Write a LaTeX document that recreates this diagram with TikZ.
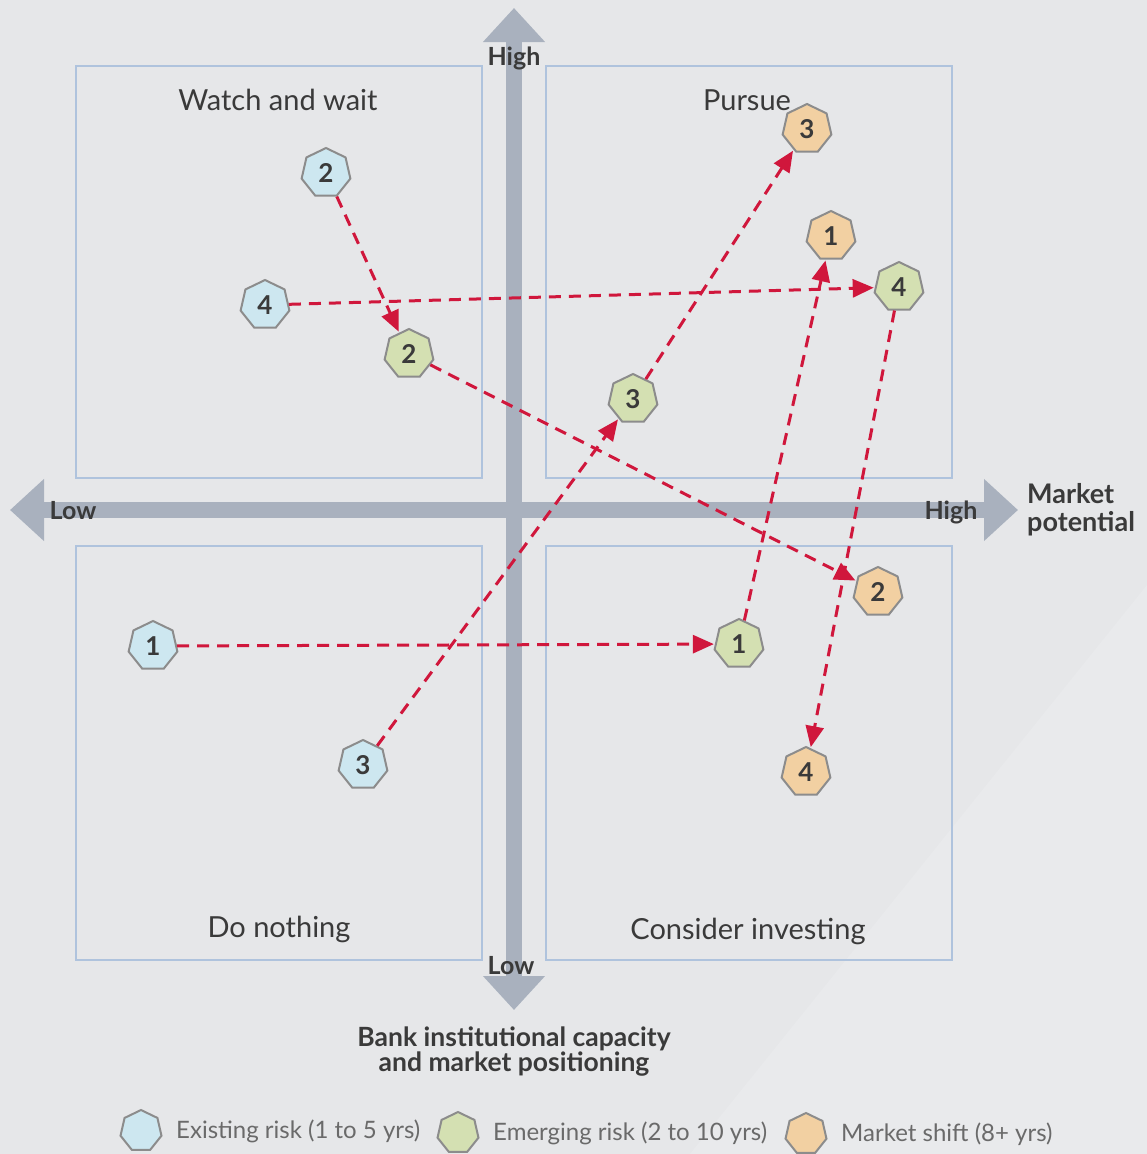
\documentclass[tikz,border=0pt]{standalone}
\usepackage{fontspec}
\setmainfont{Lato}
\usetikzlibrary{shapes.geometric,arrows.meta}
\definecolor{bg}{HTML}{E6E7E9}
\definecolor{bgl}{HTML}{E9EAEC}
\definecolor{axisc}{HTML}{A9B1BE}
\definecolor{boxc}{HTML}{AFC3DD}
\definecolor{txt}{HTML}{3A3A3A}
\definecolor{legtxt}{HTML}{6A6A6A}
\definecolor{hgray}{HTML}{8C8C8C}
\definecolor{cblue}{HTML}{CDE7F0}
\definecolor{cgreen}{HTML}{D4E0B2}
\definecolor{corange}{HTML}{F2D0A2}
\definecolor{rred}{HTML}{D0173C}
\tikzset{
  quad/.style={draw=boxc, line width=1.5pt},
  axisline/.style={draw=axisc, line width=16pt, {Triangle[length=34pt,width=60pt]}-{Triangle[length=34pt,width=60pt]}},
  axlabel/.style={text=txt, font=\bfseries\fontsize{25}{26}\selectfont, inner sep=0pt},
  qtitle/.style={text=txt, font=\fontsize{29}{30}\selectfont, inner sep=0pt},
  hept/.style={regular polygon, regular polygon sides=7, minimum size=50pt, inner sep=0pt, draw=hgray, line width=2pt, text=txt, font=\bfseries\fontsize{26}{26}\selectfont},
  exist/.style={hept, fill=cblue},
  emerg/.style={hept, fill=cgreen},
  mshift/.style={hept, fill=corange},
  legh/.style={minimum size=42pt},
  legtext/.style={text=legtxt, anchor=west, inner sep=0pt, font=\fontsize{24}{26}\selectfont},
  riskarrow/.style={draw=rred, line width=3pt, dash pattern=on 12pt off 8pt, -{Triangle[length=21pt,width=18pt]}, shorten >=1pt}
}
\begin{document}
\begin{tikzpicture}[x=1pt,y=-1pt]
\fill[bg] (0,0) rectangle (1147,1154);
\fill[bgl] (690,1154) -- (1147,585) -- (1147,1154) -- cycle;
\useasboundingbox (0,0) rectangle (1147,1154);

% quadrants
\draw[quad] (76,66) rectangle (482,478);
\draw[quad] (546,66) rectangle (952,478);
\draw[quad] (76,546) rectangle (482,960);
\draw[quad] (546,546) rectangle (952,960);

% axes
\draw[axisline] (514,1010) -- (514,8);
\draw[axisline] (10,510) -- (1018,510);

% axis labels
\node[axlabel] (hightop) at (514,58) {High};
\node[axlabel] (lowbot) at (511,966) {Low};
\node[axlabel] (lowleft) at (73,511) {Low};
\node[axlabel] (highright) at (951,512) {High};
\node[axlabel, anchor=west, align=left, font=\bfseries\fontsize{27}{28}\selectfont] (mp) at (1027,510) {Market\\potential};
\node[axlabel, align=center, font=\bfseries\fontsize{26.5}{25}\selectfont] (bank) at (514,1052) {Bank institutional capacity\\and market positioning};

% quadrant titles
\node[qtitle] (q1) at (278,100) {Watch and wait};
\node[qtitle] (q2) at (747,100) {Pursue};
\node[qtitle] (q3) at (279,929) {Do nothing};
\node[qtitle] (q4) at (748,931) {Consider investing};

% risk nodes
\node[exist] (b2) at (326,173) {2};
\node[exist] (b4) at (265,305) {4};
\node[exist] (b1) at (153,646) {1};
\node[exist] (b3) at (363,765) {3};

\node[emerg] (g2) at (409,354) {2};
\node[emerg] (g3) at (633,399) {3};
\node[emerg] (g1) at (739,644) {1};
\node[emerg] (g4) at (899,287) {4};

\node[mshift] (o3) at (807,129) {3};
\node[mshift] (o1) at (831,236) {1};
\node[mshift] (o2) at (878,592) {2};
\node[mshift] (o4) at (806,772) {4};

% arrows
\draw[riskarrow] (b2) -- (g2);
\draw[riskarrow] (b4) -- (g4);
\draw[riskarrow] (g2) -- (o2);
\draw[riskarrow] (b1) -- (g1);
\draw[riskarrow] (b3) -- (g3);
\draw[riskarrow] (g3) -- (o3);
\draw[riskarrow] (g1) -- (o1);
\draw[riskarrow] (g4) -- (o4);

% legend
\node[exist, legh] (l1) at (141,1131) {};
\node[legtext] (l1t) at (176,1131) {Existing risk (1 to 5 yrs)};
\node[emerg, legh] (l2) at (458,1133) {};
\node[legtext] (l2t) at (493,1133) {Emerging risk (2 to 10 yrs)};
\node[mshift, legh] (l3) at (806,1134) {};
\node[legtext] (l3t) at (841,1134) {Market shift (8+ yrs)};
\end{tikzpicture}
\end{document}
